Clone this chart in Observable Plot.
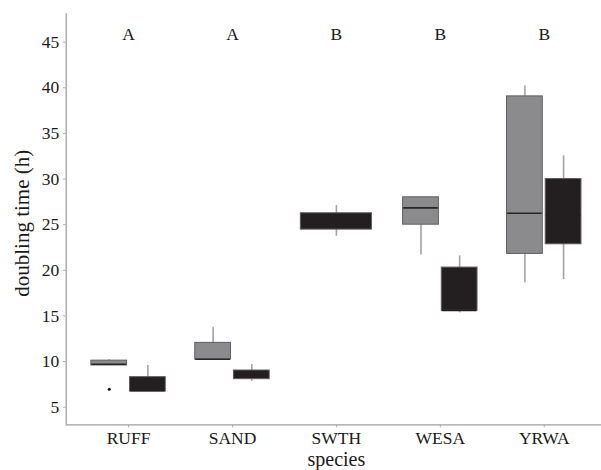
<!DOCTYPE html>
<html><head><meta charset="utf-8">
<script src="https://cdn.jsdelivr.net/npm/d3@7"></script>
<script src="https://cdn.jsdelivr.net/npm/@observablehq/plot@0.6"></script>
<style>
html,body{margin:0;padding:0;background:#fff;overflow:hidden;width:601px;height:470px}
#chart svg{display:block}
#chart svg, #chart svg text, #chart svg g{font-family:"Liberation Serif","Times New Roman",serif !important}
</style></head><body><div id="chart"></div>
<script>
// categories
const species = ["RUFF", "SAND", "SWTH", "WESA", "YRWA"];
const letters = ["A", "A", "B", "B", "B"];
const letterY = 45.8;
const yTicks = [5, 10, 15, 20, 25, 30, 35, 40, 45];

// boxplot summaries (g = grey group, b = black group)
const boxSpecies = ["RUFF", "RUFF", "SAND", "SAND", "SWTH", "WESA", "WESA", "YRWA", "YRWA"];
const boxGroup   = ["g",    "b",    "g",    "b",    "b",    "g",    "b",    "g",    "b"];
const whiskerLow = [9.57, 6.72, 10.22, 7.85, 23.73, 21.69, 15.34, 18.63, 18.99];
const q1         = [9.57, 6.72, 10.22, 8.07, 24.46, 25.00, 15.56, 21.80, 22.85];
const median     = [9.70, 6.80, 10.25, 8.50, 25.30, 26.84, 15.60, 26.25, 26.00];
const q3         = [10.10, 8.29, 12.05, 9.02, 26.25, 28.00, 20.30, 39.06, 30.00];
const whiskerHigh= [10.20, 9.57, 13.76, 9.68, 27.10, 28.00, 21.58, 40.20, 32.55];

// outliers
const outlierSpecies = ["RUFF"];
const outlierGroup = ["g"];
const outlierValue = [6.97];

const counts = d3.rollup(boxSpecies, v => v.length, d => d);
function pos(s, g) {
  const c = species.indexOf(s) + 1;
  const n = counts.get(s);
  const off = n === 1 ? 0 : (g === "g" ? -0.186 : 0.186);
  const hw = n === 1 ? 0.342 : 0.172;
  return {x: c + off, x1: c + off - hw, x2: c + off + hw};
}
const boxes = boxSpecies.map((s, i) => ({
  species: s, group: boxGroup[i], ...pos(s, boxGroup[i]),
  lo: whiskerLow[i], q1: q1[i], med: median[i], q3: q3[i], hi: whiskerHigh[i]
}));
const outliers = outlierSpecies.map((s, i) => ({...pos(s, outlierGroup[i]), v: outlierValue[i]}));
const letterData = species.map((s, i) => ({x: i + 1, label: letters[i]}));

const fillOf = {g: "#8b8b8d", b: "#231f20"};
const medianOf = {g: "#262626", b: "#231f20"};

const chart = Plot.plot({
  width: 601, height: 470,
  marginLeft: 65.7, marginRight: -5.1, marginTop: 13.3, marginBottom: 45.7,
  x: {domain: [0.4, 5.6]},
  y: {domain: [3.07, 48.11]},
  style: {fontFamily: "Liberation Serif", background: "#fff", color: "#1a1a1a"},
  marks: [
    Plot.ruleX(boxes, {x: "x", y1: "lo", y2: "hi", stroke: "#a3a3a3", strokeWidth: 1.6}),
    Plot.rect(boxes, {x1: "x1", x2: "x2", y1: "q1", y2: "q3", fill: d => fillOf[d.group], stroke: "#5e5e5e", strokeWidth: 1}),
    Plot.ruleY(boxes, {x1: d => d.x1 + 0.005, x2: d => d.x2 - 0.005, y: "med", stroke: d => medianOf[d.group], strokeWidth: 1.6}),
    Plot.dot(outliers, {x: "x", y: "v", r: 1.5, fill: "#111", stroke: null}),
    Plot.text(letterData, {x: "x", y: () => letterY, text: "label", fontSize: 17.5, fill: "#1a1a1a"}),
    Plot.ruleX([0.4], {stroke: "#a0a0a0", strokeWidth: 1.3}),
    Plot.ruleY([3.07], {stroke: "#a0a0a0", strokeWidth: 1.3}),
    Plot.axisY({ticks: yTicks, tickSize: 3, tickPadding: 4, fontSize: 17.5, label: null, stroke: "#b0b0b0", fill: "#1a1a1a"}),
    Plot.axisX({ticks: [1, 2, 3, 4, 5], tickFormat: i => species[i - 1], tickSize: 3, tickPadding: 3.5, fontSize: 17.5, label: null, stroke: "#b0b0b0", fill: "#1a1a1a"}),
    Plot.text(["doubling time (h)"], {frameAnchor: "left", textAnchor: "middle", dx: -43.7, dy: 4, rotate: -90, fontSize: 21, fill: "#1a1a1a"}),
    Plot.text(["species"], {frameAnchor: "bottom", textAnchor: "middle", dy: 41.5, fontSize: 20, fill: "#1a1a1a"})
  ]
});
document.getElementById("chart").append(chart);
</script></body></html>
